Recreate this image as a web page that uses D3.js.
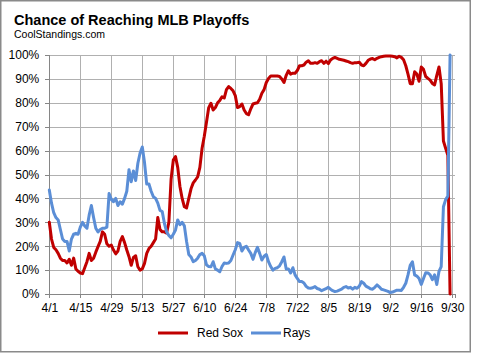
<!DOCTYPE html>
<html lang="en">
<head>
<meta charset="utf-8" />
<title>Chance of Reaching MLB Playoffs</title>
<style>
  body{margin:0;background:#fff;}
  svg{display:block;font-family:Arial,"Liberation Sans",sans-serif;}
  .tick text{font-size:12px;fill:#000;}
  .grid line{stroke:#b0b0b0;stroke-width:1;shape-rendering:crispEdges;}
  .axis .domain,.axis .tick line{stroke:#868686;shape-rendering:crispEdges;}
</style>
<script src="https://cdn.jsdelivr.net/npm/d3@7.9.0/dist/d3.min.js"></script>
</head>
<body>
<div id="chart"></div>
<script>
/* ───────── DATA (daily, starting 4/1/2011) ───────── */
const seasonStart = "2011-04-01";
const seriesNames = ["Red Sox","Rays"];
const seriesColors = ["#c00000","#5b8ed6"];

const soxPct = [
  30,23,19.5,18.5,17,15,14,14,13,14.5,12,15,10.5,9.5,8.8,8.5,11,13.5,17,14,
  15,17.5,19.8,22,26,25,21,20,20.5,18.4,16.8,18,22,24,21.5,18.4,15.6,12,15.3,16,
  11.4,10,10.5,12.8,17,19,20,21.5,23,32,27,26,26,25.5,30,48,56,57.5,53,45,
  40,36.5,36,40,44,46.5,47.7,49,53,61,66,72,78,79.8,77,78,80,81,82.5,82,
  85.5,86.8,86,85,83,78,78.4,79.5,77,75.5,75,77.5,79.5,79.8,80,81.5,84,85.5,88.5,90.2,
  91.2,91.2,91.2,91.2,91,90,88.5,91.5,93.4,92,92.4,92.4,93.5,95.5,95.5,95.8,97,97.6,96.5,96.5,
  96.8,96.5,97.2,97.6,96.5,97.4,96.4,97.9,98.6,99,98.6,98.2,98,97.8,97.5,97.2,96.8,96.5,96.8,96.8,
  97,95.8,95.5,96.5,97.8,98.3,98.5,98,98.6,99,99.3,99.5,99.6,99.6,99.6,99.5,99.3,98.8,99.5,99,
  98,95.5,92,88,88,93,92,89,95,94,91,90.2,89.5,88.1,87.5,91.5,95,88,64,61,
  58,0
];

const raysPct = [
  43.5,38,34,32,31,27,23,22,22,18,23,25,25.4,25,28,30,28.5,27.5,33,37,
  32,27.5,26,27,27.5,27.5,28,42,39.6,38.6,40,37,38.6,37.6,40,43,52,47,51.5,47.5,
  54.7,59,61.5,55,46,46,43,40.7,40,38,35,34.5,29.5,26,24.5,23.5,25,26.8,31,29,
  30,28.5,22,16.5,15.5,13.5,14,15,16.5,17,16,12.2,11.5,11.4,13.5,10.5,10,9.3,11.5,13,
  12.8,13,14,16.3,18.5,21.5,21.2,18,19.5,20,18.4,17,14.5,17.3,19.5,17,14.2,15.8,16.5,13.5,
  11.5,10,10.7,11,11.8,13.5,15.5,10.5,10.5,8.8,11,8,6.5,5.2,5.2,4.6,3.2,2.5,2.4,2.6,
  3.1,2.3,2,1.4,1.8,2.2,2.8,2,1.4,1,1.2,1.6,2,2.8,3.1,2.5,2.8,2,2.8,2.4,
  3.3,5.2,4.5,3.3,2.8,2.2,2,2.8,3.8,3,2,1.7,1.4,1.1,0.6,0.8,1.2,1.6,1.6,1.5,
  2.8,4.5,8,12,13.5,8,7.5,6.5,4,6.5,8.9,8.8,8,6,8,4,9.5,11.5,36.5,39.5,
  41,100
];

const tickLabels = ["4/1","4/15","4/29","5/13","5/27","6/10","6/24","7/8","7/22","8/5","8/19","9/2","9/16","9/30"];
const yTickVals = [0,10,20,30,40,50,60,70,80,90,100];

/* ───────── SETUP ───────── */
const W = 480, H = 354;
const P = {left:49.3, right:454.5, top:55, bottom:294};

const svg = d3.select('#chart').append('svg').attr('width',W).attr('height',H);

svg.append('rect').attr('x',0.75).attr('y',0.75).attr('width',469.5).attr('height',351)
   .attr('fill','#fff').attr('stroke','#8a8a8a').attr('stroke-width',1.5);

const parseDay = d3.timeParse('%Y-%m-%d');
const start = parseDay(seasonStart);
const tickDates = tickLabels.map(s=>{const [m,d]=s.split('/'); return new Date(2011,+m-1,+d);});

const x = d3.scaleTime().domain([start,new Date(2011,9,1)]).range([P.left,P.right]);
const y = d3.scaleLinear().domain([0,100]).range([P.bottom,P.top]);

/* title */
svg.append('text').attr('x',14).attr('y',24.5)
   .attr('font-size',14.5).attr('font-weight','bold').text('Chance of Reaching MLB Playoffs');
svg.append('text').attr('x',14).attr('y',37.5)
   .attr('font-size',10.5).text('CoolStandings.com');

/* grid */
const grid = svg.append('g').attr('class','grid');
grid.selectAll('.h').data(yTickVals.filter(v=>v>0)).join('line')
    .attr('x1',P.left).attr('x2',P.right).attr('y1',d=>Math.round(y(d))+0.5).attr('y2',d=>Math.round(y(d))+0.5);
grid.selectAll('.v').data(tickDates.slice(1)).join('line')
    .attr('x1',d=>Math.round(x(d))+0.5).attr('x2',d=>Math.round(x(d))+0.5).attr('y1',P.top).attr('y2',P.bottom);

/* axes */
svg.append('g').attr('class','axis').attr('transform',`translate(${P.left},0)`)
   .call(d3.axisLeft(y).tickValues(yTickVals).tickSize(4).tickPadding(6).tickFormat(d=>d+'%'));
svg.append('g').attr('class','axis').attr('transform',`translate(0,${P.bottom})`)
   .call(d3.axisBottom(x).tickValues(tickDates).tickSize(4).tickPadding(5).tickFormat((d,i)=>tickLabels[i]));
svg.selectAll('.axis .tick text').attr('font-family','Arial,"Liberation Sans",sans-serif');

/* lines */
const line = d3.line().x((d,i)=>x(d3.timeDay.offset(start,i))).y(d=>y(d));
[soxPct,raysPct].forEach((vals,k)=>{
  svg.append('path').datum(vals).attr('d',line)
     .attr('fill','none').attr('stroke',seriesColors[k]).attr('stroke-width',3)
     .attr('stroke-linejoin','round').attr('stroke-linecap','round');
});

/* legend */
const legX = [158,251], legTxtX = [197,283], legY = 333;
seriesNames.forEach((n,k)=>{
  svg.append('line').attr('x1',legX[k]).attr('x2',legX[k]+30).attr('y1',legY).attr('y2',legY)
     .attr('stroke',seriesColors[k]).attr('stroke-width',3);
  svg.append('text').attr('x',legTxtX[k]).attr('y',legY).attr('dy','0.35em')
     .attr('font-size',12).text(n);
});
</script>
</body>
</html>
